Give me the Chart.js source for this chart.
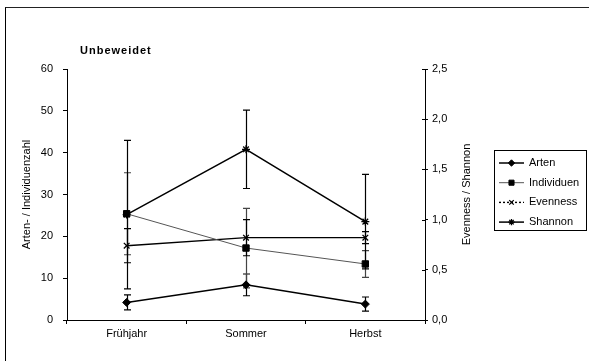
<!DOCTYPE html>
<html>
<head>
<meta charset="utf-8">
<script src="https://cdn.jsdelivr.net/npm/chart.js@4.4.1/dist/chart.umd.min.js"></script>
<style>
    html, body { margin: 0; padding: 0; background: #fff; }
    #wrap { position: relative; width: 589px; height: 361px; }
    #frame {
        position: absolute; left: 5px; top: 7px; right: 0; bottom: 0;
        border-left: 1px solid #000; border-top: 1px solid #222;
        pointer-events: none;
    }
</style>
</head>
<body>
<div id="wrap">
    <canvas id="chart" width="589" height="361"></canvas>
    <div id="frame"></div>
</div>
<script>
    const seasons = ['Frühjahr', 'Sommer', 'Herbst'];

    const arten = [4.2, 8.4, 3.8];
    const artenErr = [1.8, 2.6, 1.7];
    const individuen = [25.4, 17.2, 13.4];
    const individuenErr = [9.8, 9.5, 3.2];
    const evenness = [0.74, 0.82, 0.82];
    const evennessErr = [0.17, 0.18, 0.06];
    const shannon = [1.05, 1.70, 0.98];
    const shannonErr = [0.74, 0.39, 0.47];

    const leftTicks = [0, 10, 20, 30, 40, 50, 60];
    const rightTicks = [0, 0.5, 1.0, 1.5, 2.0, 2.5];

    const FONT = '"Liberation Sans", Arial, sans-serif';
    Chart.defaults.font.family = FONT;
    Chart.defaults.font.size = 11;
    Chart.defaults.color = '#000';

    // error bars, titles and the boxed legend are drawn here
    const extrasPlugin = {
        id: 'extras',
        beforeDatasetsDraw(chart) {
            const ctx = chart.ctx;
            chart.data.datasets.forEach((ds, i) => {
                const meta = chart.getDatasetMeta(i);
                const yScale = chart.scales[ds.yAxisID];
                ctx.save();
                ctx.strokeStyle = ds.errorColor;
                ctx.lineWidth = 1.2;
                meta.data.forEach((pt, j) => {
                    const v = ds.data[j];
                    const e = ds.errors[j];
                    const x = Math.round(pt.x) + 0.5;
                    const yTop = yScale.getPixelForValue(v + e);
                    const yBot = yScale.getPixelForValue(v - e);
                    ctx.beginPath();
                    ctx.moveTo(x, yTop);
                    ctx.lineTo(x, yBot);
                    ctx.moveTo(x - 3.5, yTop);
                    ctx.lineTo(x + 3.5, yTop);
                    ctx.moveTo(x - 3.5, yBot);
                    ctx.lineTo(x + 3.5, yBot);
                    ctx.stroke();
                });
                ctx.restore();
            });
        },
        afterDraw(chart) {
            const ctx = chart.ctx;
            const area = chart.chartArea;
            const yr = chart.scales.y1;

            ctx.save();
            // right axis ticks cross the axis line
            ctx.strokeStyle = '#000';
            ctx.lineWidth = 1;
            yr.ticks.forEach(t => {
                const y = Math.round(yr.getPixelForValue(t.value)) + 0.5;
                ctx.beginPath();
                ctx.moveTo(yr.left - 3, y);
                ctx.lineTo(yr.left, y);
                ctx.stroke();
            });

            // chart title
            ctx.fillStyle = '#000';
            ctx.font = 'bold 11px ' + FONT;
            ctx.textBaseline = 'middle';
            ctx.textAlign = 'left';
            ctx.letterSpacing = '1px';
            ctx.fillText('Unbeweidet', area.left + 13, 51);
            ctx.letterSpacing = '0px';

            // right axis title, reading upwards like the left one
            ctx.font = '11px ' + FONT;
            ctx.translate(area.right + 42, (area.top + area.bottom) / 2);
            ctx.rotate(-Math.PI / 2);
            ctx.textAlign = 'center';
            ctx.fillText('Evenness / Shannon', 0, 0);
            ctx.setTransform(1, 0, 0, 1, 0, 0);

            // legend
            ctx.strokeStyle = '#000';
            ctx.lineWidth = 1;
            ctx.strokeRect(494.5, 150.5, 92, 80);
            chart.data.datasets.forEach((ds, i) => {
                const y = 163 + i * 19.7;
                ctx.strokeStyle = ds.borderColor;
                ctx.lineWidth = ds.borderWidth;
                ctx.setLineDash(ds.legendDash || []);
                ctx.beginPath();
                ctx.moveTo(499, y);
                ctx.lineTo(524, y);
                ctx.stroke();
                ctx.setLineDash([]);
                ctx.fillStyle = ds.pointBackgroundColor;
                ctx.strokeStyle = ds.pointBorderColor;
                ctx.lineWidth = ds.pointBorderWidth;
                Chart.helpers.drawPoint(ctx, {
                    pointStyle: ds.pointStyle,
                    radius: ds.pointRadius * 0.8,
                    borderWidth: ds.pointBorderWidth,
                    rotation: 0
                }, 511.5, y);
                ctx.fillStyle = '#000';
                ctx.textAlign = 'left';
                ctx.textBaseline = 'middle';
                ctx.font = '11px ' + FONT;
                ctx.fillText(ds.label, 529, y);
            });
            ctx.restore();
        }
    };

    function makeSeries(label, data, errors, axis, style) {
        return Object.assign({
            label: label,
            data: data,
            errors: errors,
            yAxisID: axis,
            borderColor: '#000',
            borderWidth: 1.5,
            pointBackgroundColor: '#000',
            pointBorderColor: '#000',
            pointBorderWidth: 1,
            pointRadius: 4,
            errorColor: '#000',
            tension: 0,
            fill: false
        }, style);
    }

    const datasets = [
        makeSeries('Arten', arten, artenErr, 'y', { pointStyle: 'rectRot', pointRadius: 4 }),
        makeSeries('Individuen', individuen, individuenErr, 'y', {
            pointStyle: 'rect', pointRadius: 4.5, borderColor: '#555', borderWidth: 1, errorColor: '#444'
        }),
        makeSeries('Evenness', evenness, evennessErr, 'y1', {
            pointStyle: 'crossRot', pointRadius: 4, pointBorderWidth: 1.3, legendDash: [2, 2], borderWidth: 1.4
        }),
        makeSeries('Shannon', shannon, shannonErr, 'y1', {
            pointStyle: 'star', pointRadius: 4, pointBorderWidth: 1.3
        })
    ];

    new Chart(document.getElementById('chart'), {
        type: 'line',
        data: { labels: seasons, datasets: datasets },
        plugins: [extrasPlugin],
        options: {
            responsive: false,
            animation: false,
            events: [],
            layout: { padding: { left: 5, right: 0, top: 69, bottom: 0 } },
            plugins: {
                legend: { display: false },
                title: { display: false },
                tooltip: { enabled: false }
            },
            scales: {
                x: {
                    offset: true,
                    grid: { offset: true, drawOnChartArea: false, tickLength: 4, color: '#000' },
                    border: { color: '#000', width: 1 },
                    ticks: { padding: 3, color: '#000' },
                    afterFit: scale => { scale.height = 41; }
                },
                y: {
                    position: 'left',
                    min: 0,
                    max: 60,
                    afterBuildTicks: scale => { scale.ticks = leftTicks.map(v => ({ value: v })); },
                    grid: { drawOnChartArea: false, tickLength: 4, color: '#000' },
                    border: { color: '#000', width: 1 },
                    ticks: { padding: 10, color: '#000' },
                    title: {
                        display: true,
                        text: 'Arten- / Individuenzahl',
                        color: '#000',
                        font: { size: 11 },
                        padding: { top: 15, bottom: 0 }
                    },
                    afterFit: scale => { scale.width = 62; }
                },
                y1: {
                    position: 'right',
                    min: 0,
                    max: 2.5,
                    afterBuildTicks: scale => { scale.ticks = rightTicks.map(v => ({ value: v })); },
                    grid: { drawOnChartArea: false, tickLength: 3, color: '#000' },
                    border: { color: '#000', width: 1 },
                    ticks: {
                        padding: 4,
                        color: '#000',
                        callback: value => value.toFixed(1).replace('.', ',')
                    },
                    afterFit: scale => { scale.width = 164; }
                }
            }
        }
    });
</script>
</body>
</html>
